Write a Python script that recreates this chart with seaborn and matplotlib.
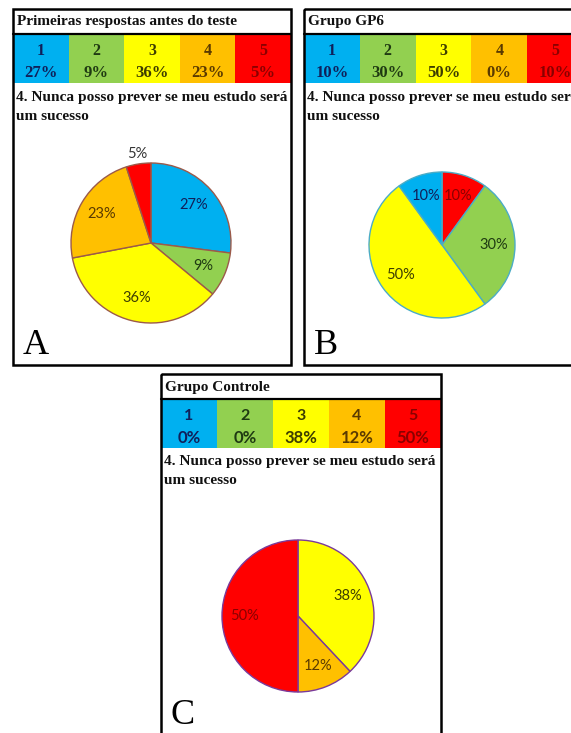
import numpy as np
import matplotlib
matplotlib.use("Agg")
import matplotlib.pyplot as plt
from matplotlib.patches import Rectangle
import seaborn as sns

# Likert scale answers and their share in each group
categories = ["1", "2", "3", "4", "5"]
pct_inicial = [27, 9, 36, 23, 5]
pct_gp6 = [10, 30, 50, 0, 10]
pct_controle = [0, 0, 38, 12, 50]

titles = ["Primeiras respostas antes do teste", "Grupo GP6", "Grupo Controle"]
question = ["4. Nunca posso prever se meu estudo será", "um sucesso"]
panel_letters = ["A", "B", "C"]

# clockwise slice order starting at 12 o'clock
slice_order = [[0, 1, 2, 3, 4], [4, 1, 2, 0], [2, 3, 4]]

sns.set_theme(style="white")
scale_colors = sns.color_palette(["#00B0F0", "#92D050", "#FFFF00", "#FFC000", "#FF0000"])
ink_colors = ["#10205a", "#1f3a12", "#3d3d00", "#5a3a00", "#8a0000"]
plt.rcParams["font.family"] = ["Liberation Serif", "DejaVu Serif"]

W, H = 571, 733
fig = plt.figure(figsize=(W / 100, H / 100), dpi=100)
fig.patch.set_facecolor("white")
canvas = fig.add_axes([0, 0, 1, 1])
canvas.set_xlim(0, W)
canvas.set_ylim(H, 0)
canvas.axis("off")

# panel boxes: left, top, right, bottom (pixels)
boxes = [(13, 9, 291, 365), (304, 9, 583, 365), (161, 374, 441, 736)]
pies = [(151, 243, 80, "#9b5a4a"), (442, 245, 73, "#4bacc6"), (298, 616, 76, "#7a3a9a")]
value_sets = [pct_inicial, pct_gp6, pct_controle]
sans_cells = [False, False, True]

for k, (x0, y0, x1, y1) in enumerate(boxes):
    vals = value_sets[k]
    canvas.add_patch(Rectangle((x0, y0), x1 - x0, y1 - y0, fill=False,
                               edgecolor="black", linewidth=1.8, zorder=5))
    # title row
    canvas.text(x0 + 4, y0 + 13, titles[k], fontsize=11, fontweight="bold",
                ha="left", va="center", color="#111111")
    canvas.plot([x0, x1], [y0 + 24.5, y0 + 24.5], color="black", lw=1.6, zorder=5)
    # colour scale row
    top, bot = y0 + 26, y0 + 74
    cw = (x1 - x0) / 5
    cell_font = ["Lato", "DejaVu Sans"] if sans_cells[k] else ["Liberation Serif", "DejaVu Serif"]
    for i, cat in enumerate(categories):
        cx = x0 + i * cw
        canvas.add_patch(Rectangle((cx, top), cw, bot - top, facecolor=scale_colors[i],
                                   edgecolor="none", zorder=2))
        canvas.text(cx + cw / 2, top + 16, cat, fontsize=11.5, fontweight="bold",
                    family=cell_font, ha="center", va="center", color=ink_colors[i], zorder=3)
        canvas.text(cx + cw / 2, top + 38, f"{vals[i]}%", fontsize=12, fontweight="bold",
                    family=cell_font, ha="center", va="center", color=ink_colors[i], zorder=3)
    # question text
    canvas.text(x0 + 3, y0 + 88, question[0], fontsize=11.1, fontweight="bold",
                ha="left", va="center", color="#111111")
    canvas.text(x0 + 3, y0 + 107, question[1], fontsize=11.1, fontweight="bold",
                ha="left", va="center", color="#111111")
    # panel letter
    canvas.text(x0 + 10, y1 - 20, panel_letters[k], fontsize=26, ha="left",
                va="center", color="black")

    # pie chart
    pcx, pcy, r, edge = pies[k]
    pax = fig.add_axes([(pcx - r) / W, 1 - (pcy + r) / H, 2 * r / W, 2 * r / H])
    order = slice_order[k]
    sizes = [vals[i] for i in order]
    wedges, _ = pax.pie(sizes, colors=[scale_colors[i] for i in order], startangle=90,
                        counterclock=False,
                        wedgeprops=dict(edgecolor=edge, linewidth=1.0))
    pax.set_xlim(-1, 1)
    pax.set_ylim(-1, 1)
    pax.axis("off")
    for w, i in zip(wedges, order):
        mid = np.deg2rad((w.theta1 + w.theta2) / 2)
        dist = 1.13 if vals[i] < 8 else 0.71
        tc = "#333333" if vals[i] < 8 else ink_colors[i]
        pax.text(dist * np.cos(mid), dist * np.sin(mid), f"{vals[i]}%",
                 family=["Lato", "DejaVu Sans"], fontsize=10.5, ha="center",
                 va="center", color=tc)

fig.savefig("out.png", dpi=100, facecolor="white")
